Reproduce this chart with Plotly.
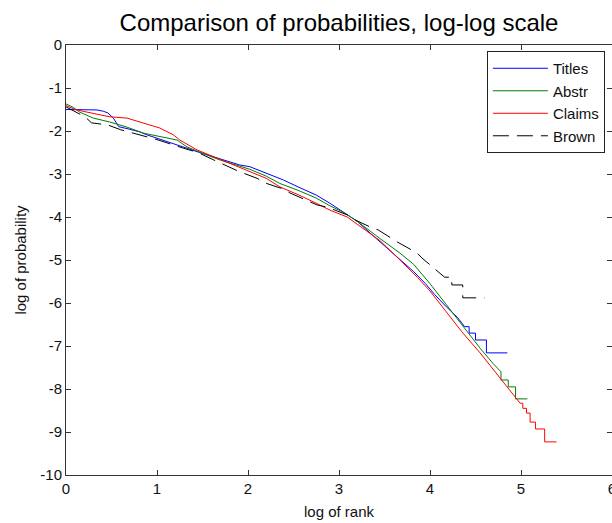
import plotly.graph_objects as go

# series values (log10 rank, log10 probability)
titles_x = [0, 0.15, 0.34, 0.41, 0.46, 0.52, 0.58, 0.7, 0.81, 0.89, 1.0, 1.11, 1.22, 1.33, 1.44,
            1.62, 1.8, 1.91, 2.02, 2.2, 2.39, 2.55, 2.75, 2.9, 3.04, 3.2, 3.34, 3.45, 3.56, 3.67,
            3.82, 3.95, 4.05, 4.18, 4.3, 4.38, 4.43, 4.43, 4.5, 4.5, 4.62, 4.62, 4.85]
titles_y = [-1.5, -1.5, -1.51, -1.54, -1.58, -1.7, -1.9, -1.96, -2.02, -2.09, -2.17, -2.25, -2.32, -2.4, -2.48,
            -2.6, -2.72, -2.79, -2.83, -2.98, -3.14, -3.3, -3.49, -3.68, -3.88, -4.1, -4.37, -4.58, -4.79, -4.98,
            -5.27, -5.55, -5.8, -6.09, -6.33, -6.55, -6.55, -6.7, -6.7, -6.86, -6.86, -7.16, -7.16]

abstr_x = [0, 0.08, 0.15, 0.3, 0.48, 0.67, 0.85, 1.03, 1.22, 1.33, 1.44, 1.55, 1.7, 1.91, 2.02,
           2.2, 2.35, 2.55, 2.75, 2.9, 3.04, 3.2, 3.34, 3.45, 3.67, 3.82, 4.0, 4.18, 4.35, 4.55,
           4.69, 4.73, 4.78, 4.78, 4.86, 4.86, 4.94, 4.94, 5.07]
abstr_y = [-1.37, -1.45, -1.56, -1.7, -1.79, -1.91, -2.05, -2.13, -2.21, -2.37, -2.47, -2.56, -2.68, -2.82, -2.89,
           -3.05, -3.22, -3.38, -3.56, -3.74, -3.88, -4.1, -4.33, -4.5, -4.84, -5.1, -5.55, -6.05, -6.5, -7.05,
           -7.4, -7.5, -7.6, -7.79, -7.79, -7.95, -7.95, -8.23, -8.23]

claims_x = [0, 0.1, 0.23, 0.48, 0.67, 0.81, 0.95, 1.03, 1.18, 1.25, 1.44, 1.6, 1.75, 1.91, 2.02,
            2.2, 2.35, 2.55, 2.75, 2.9, 3.09, 3.2, 3.34, 3.45, 3.67, 3.86, 4.0, 4.18, 4.35, 4.55,
            4.7, 4.88, 4.99, 5.02, 5.02, 5.06, 5.06, 5.1, 5.1, 5.16, 5.16, 5.26, 5.26, 5.39]
claims_y = [-1.41, -1.5, -1.56, -1.67, -1.7, -1.79, -1.87, -1.93, -2.09, -2.21, -2.44, -2.58, -2.7, -2.84, -2.95,
            -3.1, -3.3, -3.48, -3.68, -3.84, -4.0, -4.17, -4.37, -4.55, -5.0, -5.4, -5.72, -6.21, -6.67, -7.16,
            -7.55, -8.02, -8.33, -8.33, -8.45, -8.45, -8.56, -8.56, -8.77, -8.77, -8.93, -8.93, -9.23, -9.23]

brown_x = [0, 0.21, 0.28, 0.46, 0.6, 0.81, 1.0, 1.29, 1.45, 1.62, 1.84, 1.91, 2.1, 2.19, 2.39, 2.46,
           2.76, 2.87, 3.09, 3.18, 3.34, 3.43, 3.64, 3.7, 3.86, 3.91, 4.09, 4.16, 4.24, 4.24, 4.36, 4.36, 4.6]
brown_y = [-1.44, -1.67, -1.81, -1.86, -1.97, -2.09, -2.2, -2.4, -2.5, -2.67, -2.87, -2.95, -3.1, -3.21, -3.35, -3.44,
           -3.72, -3.77, -3.95, -4.07, -4.23, -4.3, -4.58, -4.65, -4.84, -4.95, -5.28, -5.4, -5.4, -5.58, -5.58, -5.88, -5.88]

x_ticks = [0, 1, 2, 3, 4, 5, 6]
y_ticks = [0, -1, -2, -3, -4, -5, -6, -7, -8, -9, -10]

series = [
    ("Titles", titles_x, titles_y, "#0000ff", "solid"),
    ("Abstr", abstr_x, abstr_y, "#008000", "solid"),
    ("Claims", claims_x, claims_y, "#ff0000", "solid"),
    ("Brown", brown_x, brown_y, "#000000", "16px,8px"),
]

FONT = "Liberation Sans, Arial, sans-serif"

fig = go.Figure()
for name, xs, ys, color, dash in series:
    fig.add_trace(go.Scatter(x=xs, y=ys, mode="lines", name=name,
                             line=dict(color=color, width=1, dash=dash)))

axis_style = dict(
    showline=True, linecolor="#333333", linewidth=1, mirror="ticks",
    ticks="inside", ticklen=5, tickcolor="#333333",
    showgrid=False, zeroline=False, automargin=False,
    ticklabeloverflow="allow",
    tickfont=dict(family=FONT, size=15, color="#111111"),
)

fig.update_layout(
    width=612, height=523,
    margin=dict(l=66, r=0, t=45, b=48),
    paper_bgcolor="white", plot_bgcolor="white",
    font=dict(family=FONT, color="#111111"),
    title=dict(text="Comparison of probabilities, log-log scale",
               font=dict(family=FONT, size=24, color="#000000"),
               x=0.5, xref="paper", xanchor="center",
               y=1 - 23 / 523, yanchor="middle"),
    xaxis=dict(range=[0, 6], tickmode="array", tickvals=x_ticks,
               ticktext=[str(v) for v in x_ticks],
               title=dict(text="log of rank", font=dict(size=15), standoff=10), **axis_style),
    yaxis=dict(range=[-10, 0], tickmode="array", tickvals=y_ticks,
               ticktext=[str(v) for v in y_ticks],
               title=dict(text="log of probability", font=dict(size=15), standoff=10), **axis_style),
    legend=dict(x=0.987, y=0.986, xanchor="right", yanchor="top",
                bordercolor="#222222", borderwidth=1, bgcolor="white",
                font=dict(family=FONT, size=15, color="#111111"),
                itemwidth=55, tracegroupgap=0),
    showlegend=True,
)

fig.write_html("out.html", config={"displayModeBar": False},
               post_script="document.body.style.margin='0';")
